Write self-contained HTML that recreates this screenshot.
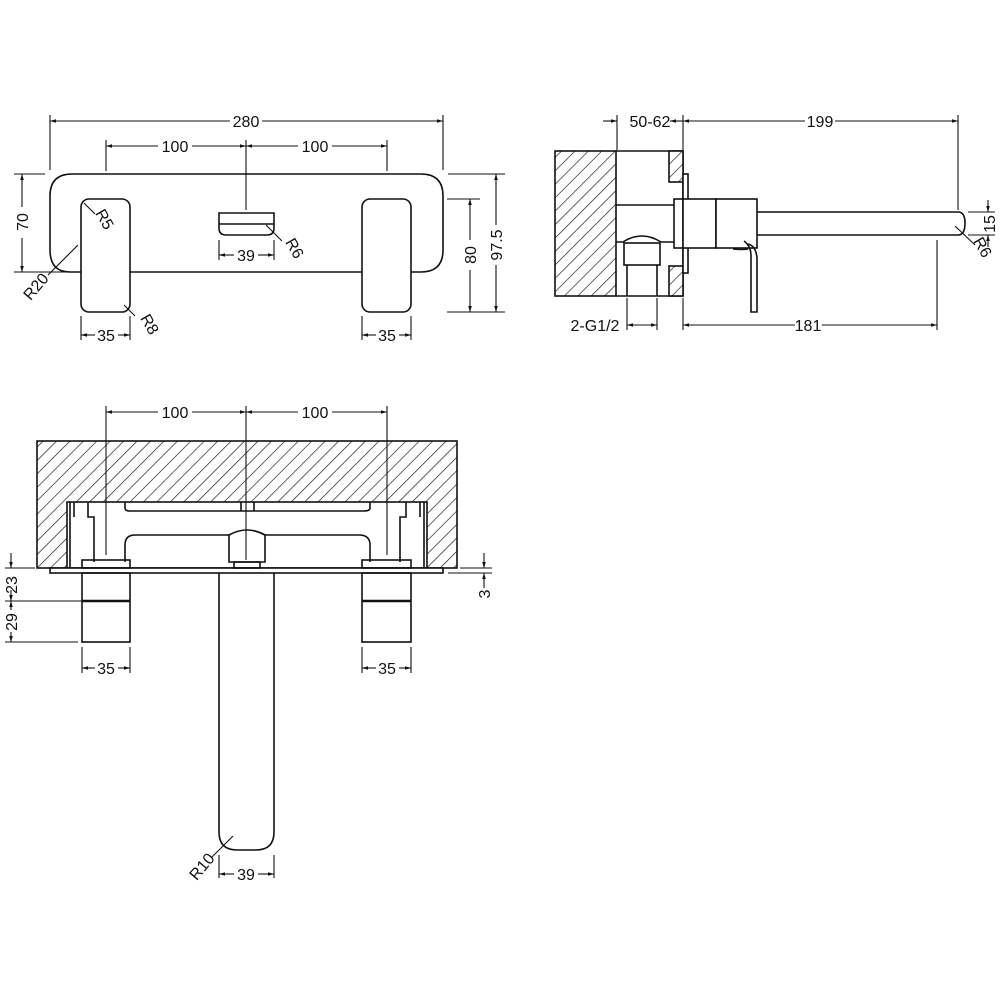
<!DOCTYPE html>
<html><head><meta charset="utf-8"><style>
html,body{margin:0;padding:0;background:#fff}
svg{display:block}
text{font-family:"Liberation Sans",sans-serif;font-size:16px;fill:#111}
</style></head><body>
<svg width="1000" height="1000" viewBox="0 0 1000 1000" xmlns="http://www.w3.org/2000/svg">
<defs>
<pattern id="h" patternUnits="userSpaceOnUse" width="9.5" height="9.5" patternTransform="rotate(45)">
<rect width="9.5" height="9.5" fill="#fff"/><line x1="0" y1="0" x2="0" y2="9.5" stroke="#111" stroke-width="1.3"/>
</pattern>
<marker id="a" viewBox="0 0 10 10" refX="10" refY="5" markerWidth="8" markerHeight="6" orient="auto-start-reverse" markerUnits="userSpaceOnUse">
<path d="M0,2 L10,5 L0,8 z" fill="#111"/></marker>
</defs>
<g fill="none" stroke="#111" stroke-width="1.6">
<!-- TOP VIEW -->
<path d="M81,272 L70,272 Q50,272 50,250 L50,196 Q50,174 72,174 L421,174 Q443,174 443,196 L443,250 Q443,272 421,272 L411,272"/>
<line x1="130" y1="272" x2="362" y2="272"/>
<rect x="81" y="199" width="49" height="113" rx="8"/>
<rect x="362" y="199" width="49" height="113" rx="8"/>
<path d="M219,213 L274,213 L274,228 Q274,235 267,235 L226,235 Q219,235 219,228 Z"/>
<line x1="219" y1="224" x2="274" y2="224"/>
<g stroke-width="1.1">
<line x1="50" y1="115" x2="50" y2="170"/><line x1="443" y1="115" x2="443" y2="170"/>
<line x1="50" y1="121" x2="230" y2="121" marker-start="url(#a)"/><line x1="262" y1="121" x2="443" y2="121" marker-end="url(#a)"/>
<line x1="106" y1="140" x2="106" y2="171"/><line x1="387" y1="140" x2="387" y2="171"/><line x1="246" y1="140" x2="246" y2="210"/>
<line x1="106" y1="146" x2="158" y2="146" marker-start="url(#a)"/><line x1="192" y1="146" x2="246" y2="146" marker-end="url(#a)"/>
<line x1="246" y1="146" x2="298" y2="146" marker-start="url(#a)"/><line x1="332" y1="146" x2="387" y2="146" marker-end="url(#a)"/>
<line x1="14" y1="174" x2="45" y2="174"/><line x1="14" y1="272" x2="80" y2="272"/>
<line x1="22" y1="174" x2="22" y2="207" marker-start="url(#a)"/><line x1="22" y1="238" x2="22" y2="272" marker-end="url(#a)"/>
<line x1="448" y1="174" x2="505" y2="174"/><line x1="447" y1="199" x2="480" y2="199"/><line x1="447" y1="312" x2="505" y2="312"/>
<line x1="470" y1="199" x2="470" y2="240" marker-start="url(#a)"/><line x1="470" y1="270" x2="470" y2="312" marker-end="url(#a)"/>
<line x1="496" y1="174" x2="496" y2="225" marker-start="url(#a)"/><line x1="496" y1="265" x2="496" y2="312" marker-end="url(#a)"/>
<line x1="81" y1="316" x2="81" y2="340"/><line x1="130" y1="316" x2="130" y2="340"/>
<line x1="81" y1="335" x2="95" y2="335" marker-start="url(#a)"/><line x1="118" y1="335" x2="130" y2="335" marker-end="url(#a)"/>
<line x1="362" y1="316" x2="362" y2="340"/><line x1="411" y1="316" x2="411" y2="340"/>
<line x1="362" y1="335" x2="376" y2="335" marker-start="url(#a)"/><line x1="399" y1="335" x2="411" y2="335" marker-end="url(#a)"/>
<line x1="219" y1="240" x2="219" y2="260"/><line x1="274" y1="240" x2="274" y2="260"/>
<line x1="219" y1="255" x2="234" y2="255" marker-start="url(#a)"/><line x1="258" y1="255" x2="274" y2="255" marker-end="url(#a)"/>
<line x1="78" y1="245" x2="48" y2="275"/><line x1="84" y1="203" x2="95" y2="214"/><line x1="124" y1="305" x2="135" y2="316"/><line x1="266" y1="225" x2="282" y2="241"/>
</g>
<!-- SIDE VIEW -->
<rect x="555" y="151" width="61" height="145" fill="url(#h)"/>
<path d="M616,151 L683,151 L683,296 L616,296"/>
<rect x="669" y="151" width="14" height="31" fill="url(#h)"/>
<rect x="669" y="266" width="14" height="30" fill="url(#h)"/>
<rect x="683" y="174" width="5" height="99" fill="#fff"/>
<rect x="674" y="199" width="9" height="49" fill="#fff"/>
<rect x="683" y="199" width="33" height="49" fill="#fff"/>
<rect x="716" y="199" width="41" height="49" fill="#fff"/>
<path d="M757,212 L958,212 Q965,212 965,223 Q965,235 958,235 L757,235"/>
<line x1="616" y1="205" x2="674" y2="205"/>
<path d="M616,242 L623,242 Q642,230 661,242 L674,242"/>
<rect x="624" y="243" width="36" height="22"/>
<line x1="627" y1="265" x2="627" y2="296"/><line x1="657" y1="265" x2="657" y2="296"/>
<path d="M744,241 Q751,246 751,256 L751,312 L757,312 L757,258 Q756,246 748,244" />
<path d="M733,249 Q742,250 748,249"/>
<g stroke-width="1.1">
<line x1="617" y1="115" x2="617" y2="150"/><line x1="683" y1="115" x2="683" y2="150"/>
<line x1="603" y1="121" x2="617" y2="121" marker-end="url(#a)"/><line x1="670" y1="121" x2="683" y2="121" marker-start="url(#a)"/>
<line x1="683" y1="121" x2="805" y2="121" marker-start="url(#a)"/><line x1="835" y1="121" x2="958" y2="121" marker-end="url(#a)"/>
<line x1="958" y1="115" x2="958" y2="210"/>
<line x1="683" y1="298" x2="683" y2="330"/><line x1="937" y1="240" x2="937" y2="330"/>
<line x1="683" y1="325" x2="795" y2="325" marker-start="url(#a)"/><line x1="822" y1="325" x2="937" y2="325" marker-end="url(#a)"/>
<line x1="627" y1="298" x2="627" y2="330"/><line x1="657" y1="298" x2="657" y2="330"/>
<line x1="630" y1="325" x2="627" y2="325" marker-end="url(#a)"/><line x1="627" y1="325" x2="657" y2="325" marker-end="url(#a)"/>
<line x1="968" y1="212" x2="995" y2="212"/><line x1="968" y1="235" x2="995" y2="235"/>
<line x1="988" y1="200" x2="988" y2="212" marker-end="url(#a)"/><line x1="988" y1="247" x2="988" y2="235" marker-end="url(#a)"/>
<line x1="955" y1="226" x2="975" y2="245"/>
</g>
<!-- BOTTOM VIEW -->
<rect x="37" y="441" width="420" height="127" fill="url(#h)"/>
<rect x="67" y="502" width="360" height="66" fill="#fff"/>
<rect x="50" y="568" width="393" height="5" fill="#fff"/>
<path d="M125,502 L125,508 Q125,511 130,511 L364,511 Q370,511 370,508 L370,502"/>
<line x1="241" y1="502" x2="241" y2="511"/><line x1="254" y1="502" x2="254" y2="511"/>
<path d="M70,502 L70,568 M88,502 L88,517 L94,517 L94,562"/>
<path d="M424,502 L424,568 M406,502 L406,517 L400,517 L400,562"/>
<path d="M74,502 L74,517 M420,502 L420,517"/>
<path d="M125,562 L125,545 Q125,535 135,535 L229,535 M265,535 L359,535 Q370,535 370,545 L370,562"/>
<path d="M229,562 L229,535 Q247,525 265,535 L265,562 Z"/>
<rect x="234" y="562" width="26" height="6"/>
<rect x="82" y="560" width="48" height="8"/>
<rect x="362" y="560" width="49" height="8"/>
<rect x="82" y="573" width="48" height="69"/>
<line x1="82" y1="601" x2="130" y2="601" stroke-width="2.4"/>
<rect x="362" y="573" width="49" height="69"/>
<line x1="362" y1="601" x2="411" y2="601" stroke-width="2.4"/>
<path d="M219,573 L219,832 Q219,850 237,850 L256,850 Q274,850 274,832 L274,573"/>
<g stroke-width="1.1">
<line x1="106" y1="406" x2="106" y2="555"/><line x1="387" y1="406" x2="387" y2="555"/><line x1="246" y1="406" x2="246" y2="560"/>
<line x1="106" y1="412" x2="158" y2="412" marker-start="url(#a)"/><line x1="192" y1="412" x2="246" y2="412" marker-end="url(#a)"/>
<line x1="246" y1="412" x2="298" y2="412" marker-start="url(#a)"/><line x1="332" y1="412" x2="387" y2="412" marker-end="url(#a)"/>
<line x1="5" y1="568" x2="35" y2="568"/><line x1="5" y1="601" x2="82" y2="601"/><line x1="5" y1="642" x2="78" y2="642"/>
<line x1="11" y1="553" x2="11" y2="568" marker-end="url(#a)"/><line x1="11" y1="590" x2="11" y2="601" marker-end="url(#a)"/>
<line x1="11" y1="601" x2="11" y2="610" marker-start="url(#a)"/><line x1="11" y1="632" x2="11" y2="642" marker-end="url(#a)"/>
<line x1="460" y1="568" x2="492" y2="568"/><line x1="448" y1="573" x2="492" y2="573"/>
<line x1="484" y1="553" x2="484" y2="568" marker-end="url(#a)"/><line x1="484" y1="588" x2="484" y2="573" marker-end="url(#a)"/>
<line x1="82" y1="647" x2="82" y2="673"/><line x1="130" y1="647" x2="130" y2="673"/>
<line x1="82" y1="668" x2="95" y2="668" marker-start="url(#a)"/><line x1="118" y1="668" x2="130" y2="668" marker-end="url(#a)"/>
<line x1="362" y1="647" x2="362" y2="673"/><line x1="411" y1="647" x2="411" y2="673"/>
<line x1="362" y1="668" x2="376" y2="668" marker-start="url(#a)"/><line x1="399" y1="668" x2="411" y2="668" marker-end="url(#a)"/>
<line x1="219" y1="855" x2="219" y2="878"/><line x1="274" y1="855" x2="274" y2="878"/>
<line x1="219" y1="874" x2="234" y2="874" marker-start="url(#a)"/><line x1="258" y1="874" x2="274" y2="874" marker-end="url(#a)"/>
<line x1="233" y1="836" x2="212" y2="857"/>
</g>
</g>
<g>
<text x="246" y="127" text-anchor="middle">280</text>
<text x="175" y="152" text-anchor="middle">100</text>
<text x="315" y="152" text-anchor="middle">100</text>
<text x="246" y="261" text-anchor="middle">39</text>
<text x="106" y="341" text-anchor="middle">35</text>
<text x="387" y="341" text-anchor="middle">35</text>
<text transform="translate(28,222) rotate(-90)" text-anchor="middle">70</text>
<text transform="translate(476,255) rotate(-90)" text-anchor="middle">80</text>
<text transform="translate(502,245) rotate(-90)" text-anchor="middle">97.5</text>
<text transform="translate(100,222) rotate(60)" text-anchor="middle">R5</text>
<text transform="translate(145,327) rotate(60)" text-anchor="middle">R8</text>
<text transform="translate(290,251) rotate(60)" text-anchor="middle">R6</text>
<text transform="translate(40,290) rotate(-50)" text-anchor="middle">R20</text>
<text x="650" y="127" text-anchor="middle">50-62</text>
<text x="820" y="127" text-anchor="middle">199</text>
<text x="808" y="331" text-anchor="middle">181</text>
<text x="595" y="331" text-anchor="middle">2-G1/2</text>
<text transform="translate(995,224) rotate(-90)" text-anchor="middle">15</text>
<text transform="translate(978,250) rotate(60)" text-anchor="middle">R6</text>
<text x="175" y="418" text-anchor="middle">100</text>
<text x="315" y="418" text-anchor="middle">100</text>
<text transform="translate(17,585) rotate(-90)" text-anchor="middle">23</text>
<text transform="translate(17,622) rotate(-90)" text-anchor="middle">29</text>
<text transform="translate(490,594) rotate(-90)" text-anchor="middle">3</text>
<text x="106" y="674" text-anchor="middle">35</text>
<text x="387" y="674" text-anchor="middle">35</text>
<text x="246" y="880" text-anchor="middle">39</text>
<text transform="translate(206,870) rotate(-50)" text-anchor="middle">R10</text>
</g>
</svg>
</body></html>
